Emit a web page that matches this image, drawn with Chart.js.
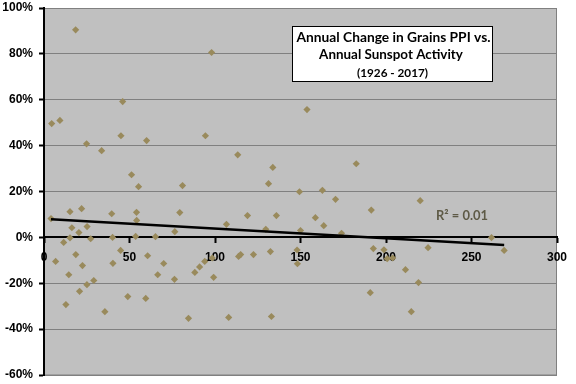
<!DOCTYPE html>
<html>
<head>
<meta charset="utf-8">
<script src="https://cdn.jsdelivr.net/npm/chart.js@4.4.1/dist/chart.umd.min.js"></script>
<style>
  html, body { margin: 0; padding: 0; background: #fff; }
  #wrap { width: 576px; height: 384px; }
</style>
</head>
<body>
<div id="wrap"><canvas id="myChart" width="576" height="384"></canvas></div>
<script>
// Datos: actividad solar (x) y cambio anual del PPI de granos (y, en %)
const sunspots = [
  4.5, 9.3, 18.5, 24.9, 33.7, 46, 45, 60, 51.2, 55.3,
  81, 98, 153.8, 94.4, 113.3, 133.8, 182.6, 131.3, 149.4, 162.8,
  170.5, 220, 4.1, 6.8, 15.2, 16.3, 11.5, 15.2, 18.6, 20.4,
  22, 25.2, 22.5, 14.5, 12.8, 20.8, 25.1, 29.1, 27.3, 35.6,
  39.6, 40.1, 40.3, 44.8, 49, 54.1, 54.2, 53.6, 59.5, 60.6,
  65.2, 66.5, 70, 76.3, 76.5, 79.4, 84.5, 88.2, 91, 94,
  98.4, 99.2, 119, 135.9, 106.7, 158.7, 163.6, 191.4, 129.7, 150,
  174, 113.8, 115, 122.5, 132.4, 148.2, 192.6, 198.8, 200.7, 203.9,
  190.8, 108, 133, 224.6, 211.4, 219, 214.8, 261.7, 269.1, 148
];
const ppiChange = [
  49.6, 51.0, 90.5, 40.8, 37.8, 59.2, 44.3, 42.2, 27.3, 22.1,
  22.6, 80.6, 55.7, 44.3, 36.0, 30.5, 32.1, 23.4, 19.9, 20.5,
  16.6, 16.0, 8.2, -10.5, 11.2, 4.2, -2.2, -0.2, -7.5, 2.1,
  12.5, 4.7, -12.3, -16.3, -29.3, -23.5, -20.6, -18.8, -0.6, -32.4,
  10.3, 0, -11.3, -5.7, -25.8, 10.9, 7.4, 0.4, -26.6, -8.0,
  0.3, -16.3, -11.4, -18.3, 2.5, 10.8, -35.3, -15.3, -12.9, -10.5,
  -9.0, -17.4, 9.5, 9.5, 5.7, 8.6, 5.1, 11.9, 3.5, 3.0,
  1.8, -8.3, -7.5, -7.5, -6.2, -11.5, -4.9, -5.4, -9.3, -9.0,
  -24.1, -34.9, -34.5, -4.5, -14.1, -19.7, -32.4, -0.1, -5.7, -5.5
];
const xTicks = [0, 50, 100, 150, 200, 250, 300];
const yTicks = [-60, -40, -20, 0, 20, 40, 60, 80, 100];
const titleLines = ['Annual Change in Grains PPI vs.', 'Annual Sunspot Activity', '(1926 - 2017)'];
const r2Label = 'R² = 0.01';

// Puntos del diagrama
const puntos = sunspots.map((s, i) => ({ x: s, y: ppiChange[i] }));

// Línea de tendencia por mínimos cuadrados
function calcularTendencia() {
    const n = sunspots.length;
    let sx = 0, sy = 0, sxy = 0, sxx = 0;
    for (let i = 0; i < n; i++) {
        sx += sunspots[i]; sy += ppiChange[i];
        sxy += sunspots[i] * ppiChange[i]; sxx += sunspots[i] * sunspots[i];
    }
    const m = (n * sxy - sx * sy) / (n * sxx - sx * sx);
    const b = (sy - m * sx) / n;
    const x0 = Math.min(...sunspots), x1 = Math.max(...sunspots);
    return [{ x: x0, y: m * x0 + b }, { x: x1, y: m * x1 + b }];
}

// Fondo gris del área de trazado
const fondoPlugin = {
    id: 'fondo',
    beforeDraw(chart) {
        const a = chart.chartArea, ctx = chart.ctx;
        ctx.save();
        ctx.fillStyle = '#c0c0c0';
        ctx.fillRect(a.left, a.top, a.right - a.left, a.bottom - a.top);
        ctx.strokeStyle = '#808080';
        ctx.lineWidth = 1;
        ctx.strokeRect(a.left, a.top + 0.5, a.right - a.left - 0.5, a.bottom - a.top - 0.5);
        ctx.restore();
    }
};

// Título en recuadro y etiqueta R²
function textoAjustado(ctx, txt, ancho, tam, cx, cy) {
    ctx.font = 'bold ' + tam + 'px Lato';
    const w = ctx.measureText(txt).width;
    const t = tam * ancho / w;
    ctx.font = 'bold ' + t.toFixed(2) + 'px Lato';
    ctx.fillText(txt, cx, cy);
}

const anotacionesPlugin = {
    id: 'anotaciones',
    afterDraw(chart) {
        const ctx = chart.ctx;
        ctx.save();
        ctx.fillStyle = '#fff';
        ctx.fillRect(292, 26, 200, 55);
        ctx.strokeStyle = '#000';
        ctx.lineWidth = 1;
        ctx.strokeRect(292.5, 26.5, 200, 55);
        ctx.fillStyle = '#000';
        ctx.textAlign = 'center';
        ctx.textBaseline = 'middle';
        textoAjustado(ctx, titleLines[0], 194, 14, 393.5, 38);
        textoAjustado(ctx, titleLines[1], 144, 14, 391, 55);
        textoAjustado(ctx, titleLines[2], 71, 11, 392.5, 73);
        ctx.fillStyle = '#5e5a46';
        textoAjustado(ctx, r2Label, 52, 12, 462, 216);
        ctx.restore();
    }
};

const ctx = document.getElementById('myChart').getContext('2d');
const myChart = new Chart(ctx, {
    type: 'scatter',
    data: {
        datasets: [{
            label: 'Tendencia',
            type: 'line',
            data: calcularTendencia(),
            borderColor: '#000',
            borderWidth: 2.5,
            pointRadius: 0,
            fill: false,
            order: 0
        }, {
            label: 'PPI',
            data: puntos,
            pointStyle: 'rectRot',
            pointRadius: 3.6,
            pointHoverRadius: 3.6,
            backgroundColor: '#998a5c',
            borderColor: '#998a5c',
            borderWidth: 0,
            order: 1
        }]
    },
    options: {
        responsive: false,
        animation: false,
        events: [],
        layout: { padding: { left: 0, right: 19, top: 8, bottom: 9 } },
        plugins: { legend: { display: false }, tooltip: { enabled: false } },
        scales: {
            x: {
                type: 'linear',
                position: { y: 0 },
                min: 0,
                max: 300,
                afterBuildTicks(scale) { scale.ticks = xTicks.map(v => ({ value: v })); },
                afterFit(scale) { scale.paddingLeft = 0; scale.paddingRight = 0; },
                grid: { drawOnChartArea: false, drawTicks: true, tickLength: 5, tickColor: '#000', tickWidth: 2 },
                border: { display: true, color: '#000', width: 2 },
                ticks: { color: '#000', font: { family: 'Liberation Sans', size: 12, weight: 'bold' }, padding: 8, maxRotation: 0 }
            },
            y: {
                min: -60,
                max: 100,
                afterBuildTicks(scale) { scale.ticks = yTicks.map(v => ({ value: v })); },
                afterFit(scale) { scale.width = 44; scale.paddingTop = 0; scale.paddingBottom = 0; },
                grid: { color: '#808080', lineWidth: 1, drawTicks: true, tickLength: 5, tickColor: '#000', tickWidth: 2 },
                border: { display: true, color: '#000', width: 2 },
                ticks: {
                    color: '#000',
                    font: { family: 'Liberation Sans', size: 12, weight: 'bold' },
                    padding: 6,
                    callback: v => v + '%'
                }
            }
        }
    },
    plugins: [fondoPlugin, anotacionesPlugin]
});
</script>
</body>
</html>
